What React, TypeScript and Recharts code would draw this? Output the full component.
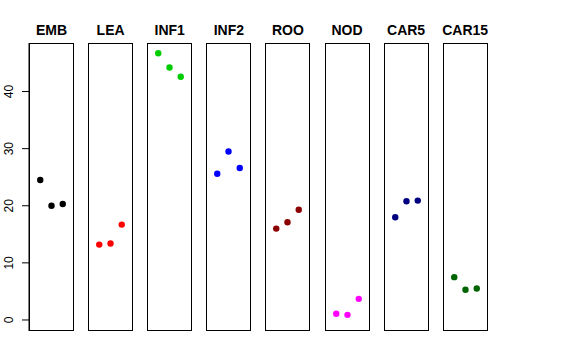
import React from 'react';
import { ScatterChart, Scatter, XAxis, YAxis } from 'recharts';

const tissues = ['EMB', 'LEA', 'INF1', 'INF2', 'ROO', 'NOD', 'CAR5', 'CAR15'];
const replicates = [1, 2, 3];

const emb = [24.5, 20.0, 20.3];
const lea = [13.2, 13.4, 16.7];
const inf1 = [46.7, 44.2, 42.6];
const inf2 = [25.6, 29.5, 26.6];
const roo = [16.0, 17.1, 19.3];
const nod = [1.1, 0.9, 3.7];
const car5 = [18.0, 20.8, 20.9];
const car15 = [7.5, 5.3, 5.5];

const yTicks = [0, 10, 20, 30, 40];

const seriesValues = [emb, lea, inf1, inf2, roo, nod, car5, car15];
const tissueColors = ['#000000', '#FF0000', '#00CD00', '#0000FF', '#8B0000', '#FF00FF', '#000080', '#006400'];

const FONT = '"Liberation Sans", Arial, Helvetica, sans-serif';
const PANEL_W = 45;
const PANEL_H = 288;
const PANEL_TOP = 43;
const FIRST_LEFT = 29;
const PITCH = 59.1;
const Y_DOMAIN: [number, number] = [-1.93, 48.5];

const RotatedTick = (props: any) => {
    const { y, payload } = props;
    return (
        <text x={13} y={y} transform={`rotate(-90, 13, ${y})`} textAnchor="middle" fontSize={12} fill="#000" fontFamily={FONT}>
            {payload.value}
        </text>
    );
};

const Dot = (props: any) => <circle cx={props.cx} cy={props.cy} r={3.2} fill={props.fill} />;

const Panel: React.FC<{ index: number }> = ({ index }) => {
    const data = replicates.map((r, i) => ({ x: r, y: seriesValues[index][i] }));
    const withAxis = index === 0;
    const axisW = withAxis ? FIRST_LEFT : 0;
    const left = FIRST_LEFT + index * PITCH;

    return (
        <>
            <div
                style={{
                    position: 'absolute',
                    left: left - 10,
                    width: PANEL_W + 20,
                    top: 22,
                    textAlign: 'center',
                    fontFamily: FONT,
                    fontWeight: 'bold',
                    fontSize: 14,
                    lineHeight: '16px',
                    whiteSpace: 'nowrap',
                }}
            >
                {tissues[index]}
            </div>
            <div style={{ position: 'absolute', left: left - axisW, top: PANEL_TOP }}>
                <ScatterChart width={PANEL_W + axisW} height={PANEL_H} margin={{ top: 0, right: 0, bottom: 0, left: 0 }}>
                    <XAxis type="number" dataKey="x" domain={[0, 4]} hide />
                    <YAxis
                        type="number"
                        dataKey="y"
                        domain={Y_DOMAIN}
                        ticks={yTicks}
                        hide={!withAxis}
                        width={axisW}
                        tickSize={7}
                        tickLine={{ stroke: '#000' }}
                        axisLine={{ stroke: '#000' }}
                        tick={<RotatedTick />}
                        interval={0}
                    />
                    <Scatter data={data} fill={tissueColors[index]} shape={<Dot />} isAnimationActive={false} />
                </ScatterChart>
            </div>
            <div
                style={{
                    position: 'absolute',
                    left,
                    top: PANEL_TOP,
                    width: PANEL_W,
                    height: PANEL_H,
                    border: '1px solid #000',
                    boxSizing: 'border-box',
                    pointerEvents: 'none',
                }}
            />
        </>
    );
};

export default function App() {
    return (
        <div style={{ position: 'absolute', left: 0, top: 0, width: 576, height: 360, background: '#fff' }}>
            {tissues.map((t, i) => (
                <Panel key={t} index={i} />
            ))}
        </div>
    );
}
